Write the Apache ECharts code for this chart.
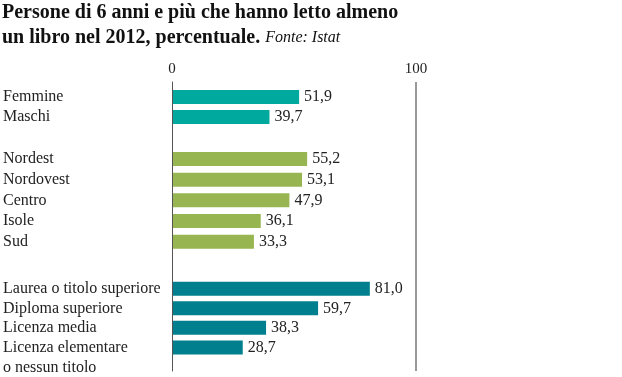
<!DOCTYPE html>
<html><head><meta charset="utf-8">
<script src="https://cdn.jsdelivr.net/npm/echarts@6/dist/echarts.min.js"></script>
<style>html,body{margin:0;padding:0;background:#fff}#c{width:622px;height:377px}</style>
</head><body><div id="c"></div>
<script>
const genderCats = ['Femmine', 'Maschi'];
const genderVals = [51.9, 39.7];
const areaCats = ['Nordest', 'Nordovest', 'Centro', 'Isole', 'Sud'];
const areaVals = [55.2, 53.1, 47.9, 36.1, 33.3];
const eduCats = ['Laurea o titolo superiore', 'Diploma superiore', 'Licenza media', 'Licenza elementare\no nessun titolo'];
const eduVals = [81.0, 59.7, 38.3, 28.7];
const axisTicks = [0, 100];

const FONT = 'Liberation Serif';
const fmt = v => v.toFixed(1).replace('.', ',');
const L = 172, R = 622 - 416;

const grids = [
  {left: L, right: R, top: 82, bottom: 6},
  {left: L, right: R, top: 87, height: 40},
  {left: L, right: R, top: 148.6, height: 103.5},
  {left: L, right: R, top: 279, height: 81.3}
];
const xAxes = grids.map((g, i) => ({
  gridIndex: i, type: 'value', min: axisTicks[0], max: axisTicks[1], interval: 100,
  position: 'top',
  axisLine: {show: false}, axisTick: {show: false},
  axisLabel: {show: i === 0, margin: 5, fontFamily: FONT, fontSize: 15, color: '#222'},
  splitLine: {show: i === 0, lineStyle: {color: ['rgba(0,0,0,0)', '#999'], width: 2}}
}));
const catSets = [[''], genderCats, areaCats, eduCats];
const yAxes = catSets.map((cats, i) => ({
  gridIndex: i, type: 'category', inverse: true, data: cats,
  axisLine: {show: i === 0, lineStyle: {color: '#555', width: 1}},
  axisTick: {show: false},
  axisLabel: {
    show: i > 0, interval: 0, align: 'left', margin: 170, fontFamily: FONT, fontSize: 16, color: '#222', lineHeight: 20,
    formatter: v => v.indexOf('\n') >= 0 ? '\n' + v : v
  }
}));
const colors = ['#00a99d', '#97b651', '#00808e'];
const vals = [genderVals, areaVals, eduVals];
const series = vals.map((d, i) => ({
  type: 'bar', xAxisIndex: i + 1, yAxisIndex: i + 1, data: d, barWidth: 14,
  itemStyle: {color: colors[i]}, silent: true,
  label: {show: true, position: 'right', distance: 5, fontFamily: FONT, fontSize: 16, color: '#222',
    formatter: p => fmt(p.value)}
}));

const chart = echarts.init(document.getElementById('c'));
chart.setOption({
  animation: false,
  title: {
    left: 0, top: 0, padding: [0, 0, 0, 2],
    text: '{b|Persone di 6 anni e più che hanno letto almeno}\n{b|un libro nel 2012, percentuale.} {i|Fonte: Istat}',
    textStyle: {
      rich: {
        b: {fontFamily: FONT, fontWeight: 'bold', fontSize: 20, color: '#111', lineHeight: 25},
        i: {fontFamily: FONT, fontStyle: 'italic', fontWeight: 'normal', fontSize: 16, color: '#111', lineHeight: 25}
      }
    }
  },
  grid: grids, xAxis: xAxes, yAxis: yAxes, series: series
});
</script></body></html>
